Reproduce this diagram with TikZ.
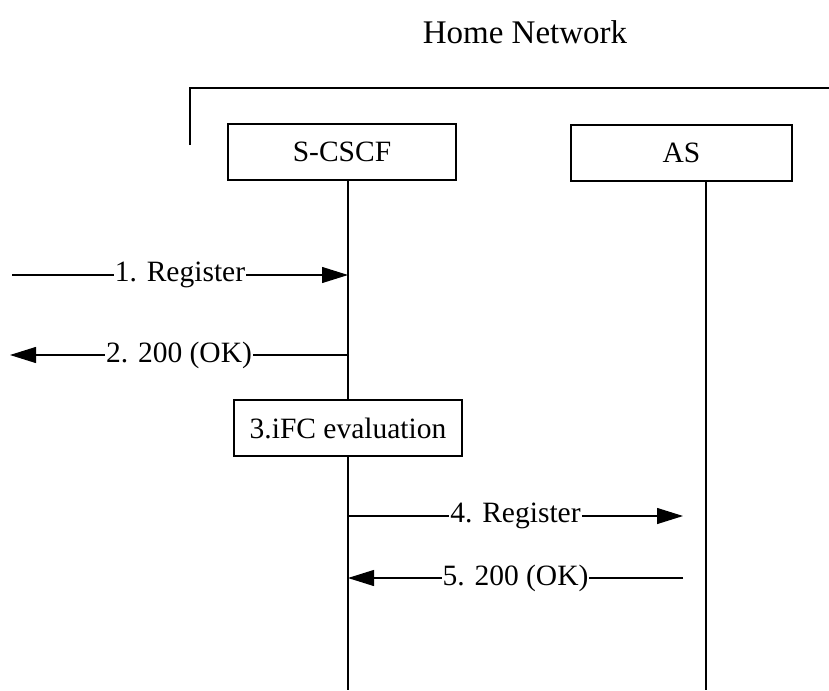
\documentclass[tikz,border=0pt]{standalone}
\usepackage{fontspec}
\setmainfont{Liberation Serif}
\usepackage{tikz}
\usetikzlibrary{arrows.meta, positioning}

\begin{document}
\begin{tikzpicture}[x=1pt, y=-1pt,
            box/.style={draw, rectangle, line width=2pt, fill=white, minimum height=56pt, inner sep=0pt, font=\fontsize{29.5}{34}\selectfont},
            msg/.style={line width=1.1pt, -{Triangle[length=26pt, width=16pt]}},
            life/.style={line width=2.2pt},
            lbl/.style={fill=white, inner sep=1pt, font=\fontsize{29.5}{34}\selectfont}]

            \useasboundingbox (0,0) rectangle (829,690);

            \node[font=\fontsize{33}{38}\selectfont] (title) at (525,32) {Home Network};

            % home network bracket
            \coordinate (brlow) at (190,145);
            \coordinate (brcorner) at (190,88);
            \coordinate (brend) at (829,88);
            \draw[line width=2.8pt] (brlow) -- (brcorner) -- (brend);

            \node[box, minimum width=228pt] (scscf) at (342,152) {S-CSCF};
            \node[box, minimum width=221pt] (as) at (681.5,153) {AS};

            \coordinate (scscfend) at (348,690);
            \coordinate (asend) at (706,690);
            \draw[life] (scscf.south -| scscfend) -- (scscfend);
            \draw[life] (as.south -| asend) -- (asend);

            \node[box, minimum width=228pt] (ifc) at (348,428) {3.iFC evaluation};

            \coordinate (m1from) at (12,275);
            \coordinate (m2to) at (10,355);
            \coordinate (m4to) at (683,516);
            \coordinate (m5from) at (683,578);

            \draw[msg] (m1from) -- node[lbl] {1. Register} (m1from -| scscfend);
            \draw[msg] (m2to -| scscfend) -- node[lbl] {2. 200 (OK)} (m2to);
            \draw[msg] (m4to -| scscfend) -- node[lbl] {4. Register} (m4to);
            \draw[msg] (m5from) -- node[lbl] {5. 200 (OK)} (m5from -| scscfend);
        \end{tikzpicture}
\end{document}
